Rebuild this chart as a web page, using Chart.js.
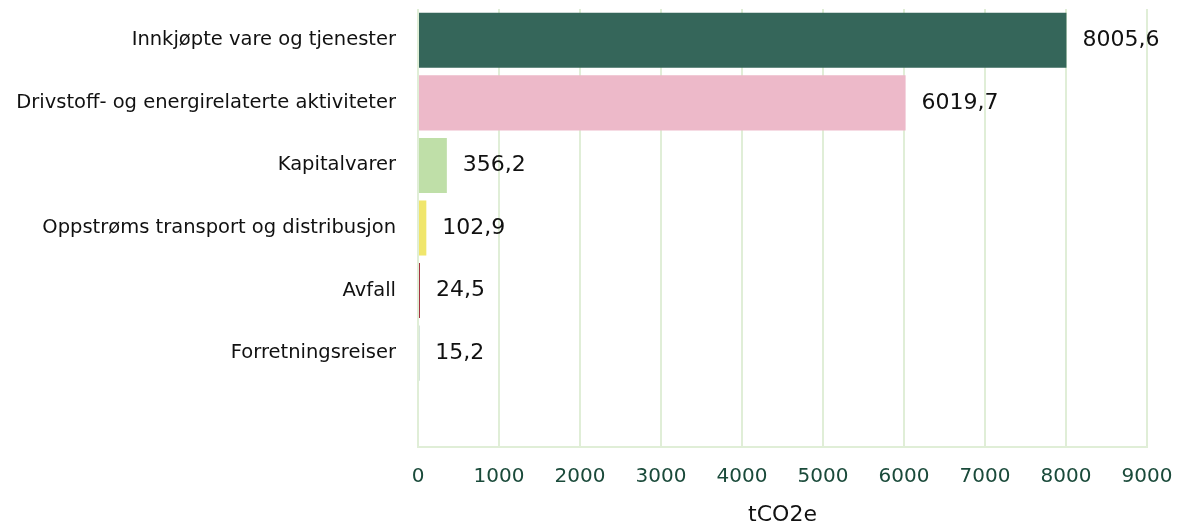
<!DOCTYPE html>
<html>
<head>
<meta charset="utf-8">
<script src="https://cdn.jsdelivr.net/npm/chart.js@4/dist/chart.umd.min.js"></script>
<style>
html,body{margin:0;padding:0;background:#fff;}
#wrap{width:1180px;height:526px;}
</style>
</head>
<body>
<div id="wrap"><canvas id="c" width="1180" height="526"></canvas></div>
<script>
const categories = [
  'Innkjøpte vare og tjenester',
  'Drivstoff- og energirelaterte aktiviteter',
  'Kapitalvarer',
  'Oppstrøms transport og distribusjon',
  'Avfall',
  'Forretningsreiser',
  ''
];
const values = [8005.6, 6019.7, 356.2, 102.9, 24.5, 15.2, null];
const barColors = ['#35665a', '#edb9c9', '#bfdfa8', '#f0e66c', '#a3303f', '#4f8f66', '#ffffff'];
const xTicks = [0, 1000, 2000, 3000, 4000, 5000, 6000, 7000, 8000, 9000];
const xTitle = 'tCO2e';

const valueLabels = {
  id: 'valueLabels',
  afterDatasetsDraw(chart) {
    const ctx = chart.ctx;
    const meta = chart.getDatasetMeta(0);
    ctx.save();
    ctx.font = '22px "DejaVu Sans", sans-serif';
    ctx.fillStyle = '#111';
    ctx.textAlign = 'left';
    ctx.textBaseline = 'middle';
    meta.data.forEach((bar, i) => {
      const v = values[i];
      if (v === null || v === undefined) return;
      ctx.fillText(v.toFixed(1).replace('.', ','), bar.x + 16, bar.y);
    });
    ctx.restore();
  }
};

new Chart(document.getElementById('c'), {
  type: 'bar',
  data: {
    labels: categories,
    datasets: [{
      data: values,
      backgroundColor: barColors,
      borderWidth: 0,
      categoryPercentage: 1,
      barPercentage: 0.88
    }]
  },
  options: {
    indexAxis: 'y',
    responsive: false,
    animation: false,
    layout: { padding: { top: 9, right: 33, bottom: 0, left: 0 } },
    plugins: { legend: { display: false }, tooltip: { enabled: false } },
    scales: {
      x: {
        min: 0, max: 9000,
        afterBuildTicks(scale) { scale.ticks = xTicks.map(v => ({ value: v })); },
        afterFit(scale) { scale.height = 79; scale.paddingLeft = 0; scale.paddingRight = 0; },
        grid: { color: '#e0eed7', lineWidth: 2, drawTicks: false },
        border: { display: true, color: '#e0eed7', width: 2 },
        ticks: {
          padding: 18,
          color: '#1a4a3a',
          font: { family: '"DejaVu Sans", sans-serif', size: 20 },
          callback: (v) => String(v)
        },
        title: {
          display: true,
          text: xTitle,
          color: '#111',
          font: { family: '"DejaVu Sans", sans-serif', size: 22, lineHeight: 1 },
          padding: { top: 0, bottom: 0 }
        }
      },
      y: {
        afterFit(scale) { scale.width = 418; scale.paddingTop = 0; scale.paddingBottom = 0; },
        grid: { display: false, drawTicks: false },
        border: { display: false },
        ticks: {
          padding: 22,
          color: '#111',
          font: { family: '"DejaVu Sans", sans-serif', size: 19.5 }
        }
      }
    }
  },
  plugins: [valueLabels]
});
</script>
</body>
</html>
